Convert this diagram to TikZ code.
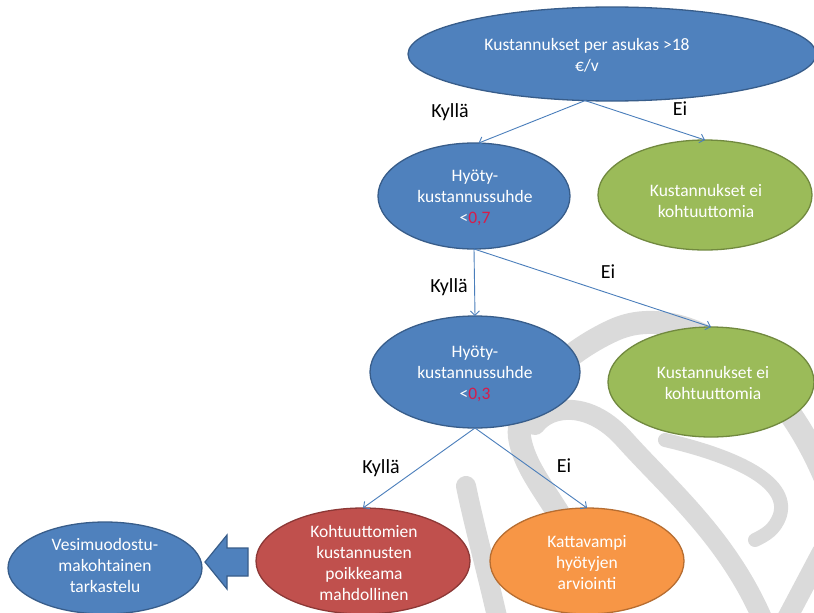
\documentclass[tikz,border=0pt]{standalone}
\usepackage{fontspec}
\setmainfont{Carlito}
\usetikzlibrary{shapes.geometric,arrows.meta}
\definecolor{ublue}{HTML}{4F81BD}
\definecolor{ubluedk}{HTML}{385D8A}
\definecolor{ugreen}{HTML}{9BBB59}
\definecolor{ugreendk}{HTML}{71893F}
\definecolor{ured}{HTML}{C0504D}
\definecolor{ureddk}{HTML}{8C3836}
\definecolor{uorange}{HTML}{F79646}
\definecolor{uorangedk}{HTML}{B66D31}
\definecolor{conncol}{HTML}{4A7EBB}
\definecolor{numred}{HTML}{D81B4A}
\definecolor{wmark}{HTML}{DADADA}
\begin{document}
\begin{tikzpicture}[x=1pt,y=-1pt,
  ell/.style={ellipse, line width=1.3pt, inner sep=0pt, outer sep=0pt},
  blueell/.style={ell, fill=ublue, draw=ubluedk},
  greenell/.style={ell, fill=ugreen, draw=ugreendk},
  redell/.style={ell, fill=ured, draw=ureddk},
  orangeell/.style={ell, fill=uorange, draw=uorangedk},
  txt/.style={text=white, align=center, font=\fontsize{17.5}{21}\selectfont, inner sep=0pt},
  lbl/.style={font=\fontsize{20}{24}\selectfont, anchor=base, inner sep=0pt},
  arrowline/.style={draw=conncol, line width=0.9pt, -{Straight Barb[length=4.5pt,width=9pt]}},
  wm/.style={draw=wmark, line width=20pt, line cap=round}
]
\fill[white] (0,0) rectangle (814,613);
\useasboundingbox (0,0) rectangle (814,613);

% watermark
\begin{scope}
\clip (0,0) rectangle (814,613);
\draw[wm] (466,486) .. controls (475,530) and (488,575) .. (500,630);
\draw[wm, line width=23pt] (830,490) .. controls (780,360) and (680,300) .. (614,330)
   .. controls (565,352) and (512,400) .. (520,440)
   .. controls (527,475) and (555,500) .. (585,560);
\draw[wm] (535,425) .. controls (550,405) and (590,400) .. (625,440)
   .. controls (670,490) and (730,540) .. (765,625);
\draw[wm, line width=14pt] (665,440) .. controls (730,455) and (790,480) .. (780,515)
   .. controls (775,530) and (765,535) .. (755,540);
\draw[wm] (785,622) -- (822,552);
\end{scope}

% shapes
\node[blueell, minimum width=408pt, minimum height=94pt] (top) at (612,54) {};
\node[blueell, minimum width=192pt, minimum height=106pt] (hy1) at (474,196) {};
\node[greenell, minimum width=214pt, minimum height=110pt] (g1) at (705,195) {};
\node[blueell, minimum width=210pt, minimum height=112pt] (hy2) at (475,372) {};
\node[greenell, minimum width=206pt, minimum height=110pt] (g2) at (711,382) {};
\node[redell, minimum width=214pt, minimum height=106pt] (red) at (363,561) {};
\node[orangeell, minimum width=194pt, minimum height=106pt] (org) at (587,561) {};
\node[blueell, minimum width=194pt, minimum height=92pt] (vm) at (105,568) {};

% block arrow
\draw[fill=ublue, draw=ubluedk, line width=1.2pt]
  (205,562) -- (227,535) -- (227,548) -- (248,548) -- (248,576) -- (227,576) -- (227,589) -- cycle;

% connectors
\draw[arrowline] (top.240) -- (hy1.85);
\draw[arrowline] (top.240) -- (g1.north);
\draw[arrowline] (hy1.south) -- (hy2.north);
\draw[arrowline] (hy1.south) -- (g2.north);
\draw[arrowline] (hy2.south) -- (red.north);
\draw[arrowline] (hy2.south) -- (org.north);

% texts
\node[txt] (topt) at (587,55) {Kustannukset per asukas >18\\€/v};
\node[txt] (hy1t) at (475,198) {Hyöty-\\kustannussuhde\\<{\color{numred}0,7}};
\node[txt] (g1t) at (706,201) {Kustannukset ei\\kohtuuttomia};
\node[txt] (hy2t) at (475,374) {Hyöty-\\kustannussuhde\\<{\color{numred}0,3}};
\node[txt] (g2t) at (713,383) {Kustannukset ei\\kohtuuttomia};
\node[txt] (redt) at (364,563) {Kohtuuttomien\\kustannusten\\poikkeama\\mahdollinen};
\node[txt] (orgt) at (587,563) {Kattavampi\\hyötyjen\\arviointi};
\node[txt] (vmt) at (105,565) {Vesimuodostu-\\makohtainen\\tarkastelu};

% labels
\node[lbl] (k1) at (450,117) {Kyllä};
\node[lbl] (e1) at (680,115) {Ei};
\node[lbl] (k2) at (449,292) {Kyllä};
\node[lbl] (e2) at (608,278) {Ei};
\node[lbl] (k3) at (381,473) {Kyllä};
\node[lbl] (e3) at (564,472) {Ei};
\end{tikzpicture}
\end{document}
